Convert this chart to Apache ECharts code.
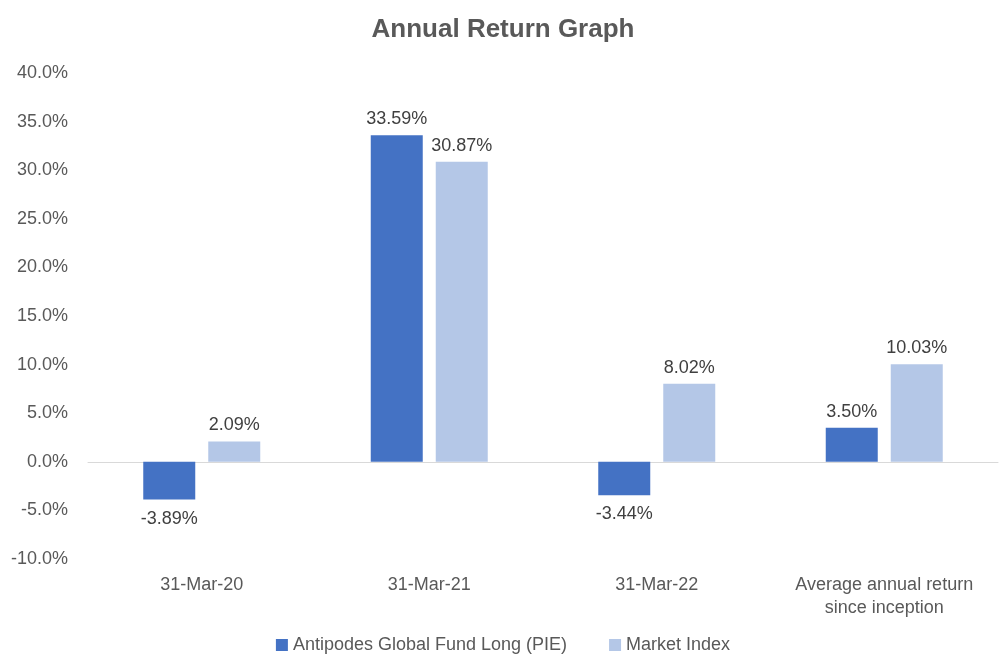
<!DOCTYPE html>
<html>
<head>
<meta charset="utf-8">
<script src="https://cdn.jsdelivr.net/npm/echarts@6/dist/echarts.min.js"></script>
<style>
  html, body { margin: 0; padding: 0; background: #fff; }
  #chart { width: 1006px; height: 669px; }
</style>
</head>
<body>
<div id="chart"></div>
<script>
const categories = ['31-Mar-20', '31-Mar-21', '31-Mar-22', 'Average annual return\nsince inception'];
const fundReturns = [-3.89, 33.59, -3.44, 3.50];
const indexReturns = [2.09, 30.87, 8.02, 10.03];
const seriesNames = ['Antipodes Global Fund Long (PIE)', 'Market Index'];

const font = 'sans-serif';
const fs = 18;
const chart = echarts.init(document.getElementById('chart'));

const labelFmt = p => p.value.toFixed(2) + '%';
const makeLabel = () => ({
  show: true,
  position: 'top',
  formatter: labelFmt,
  color: '#404040',
  fontFamily: font,
  fontSize: fs,
  distance: 7,
});

chart.setOption({
  animation: false,
  title: {
    text: 'Annual Return Graph',
    left: 'center',
    top: 12,
    textStyle: { color: '#595959', fontFamily: font, fontSize: 26, fontWeight: 'bold' },
  },
  grid: { left: 88, right: 8, top: 73, bottom: 110 },
  legend: {
    bottom: 10,
    left: 'center',
    itemWidth: 12,
    itemHeight: 12,
    itemGap: 42,
    icon: 'rect',
    textStyle: { color: '#595959', fontFamily: font, fontSize: fs },
    data: seriesNames,
  },
  xAxis: {
    type: 'category',
    data: categories,
    axisLine: { onZero: true, lineStyle: { color: '#d9d9d9', width: 1 } },
    axisTick: { show: false },
    axisLabel: {
      color: '#595959',
      fontFamily: font,
      fontSize: fs,
      lineHeight: 23,
      interval: 0,
      margin: 15,
    },
  },
  yAxis: {
    type: 'value',
    min: -10,
    max: 40,
    interval: 5,
    axisLine: { show: false },
    axisTick: { show: false },
    splitLine: { show: false },
    axisLabel: {
      color: '#595959',
      fontFamily: font,
      fontSize: fs,
      margin: 20,
      align: 'right',
      formatter: v => v.toFixed(1) + '%',
    },
  },
  series: [
    {
      name: seriesNames[0],
      type: 'bar',
      data: fundReturns.map(v => ({ value: v, label: { position: v < 0 ? 'bottom' : 'top', distance: v < 0 ? 10 : 7 } })),
      itemStyle: { color: '#4472C4' },
      barWidth: 52,
      barGap: '25%',
      label: makeLabel(),
    },
    {
      name: seriesNames[1],
      type: 'bar',
      data: indexReturns,
      itemStyle: { color: '#B4C7E7' },
      barWidth: 52,
      label: makeLabel(),
    },
  ],
});
</script>
</body>
</html>
